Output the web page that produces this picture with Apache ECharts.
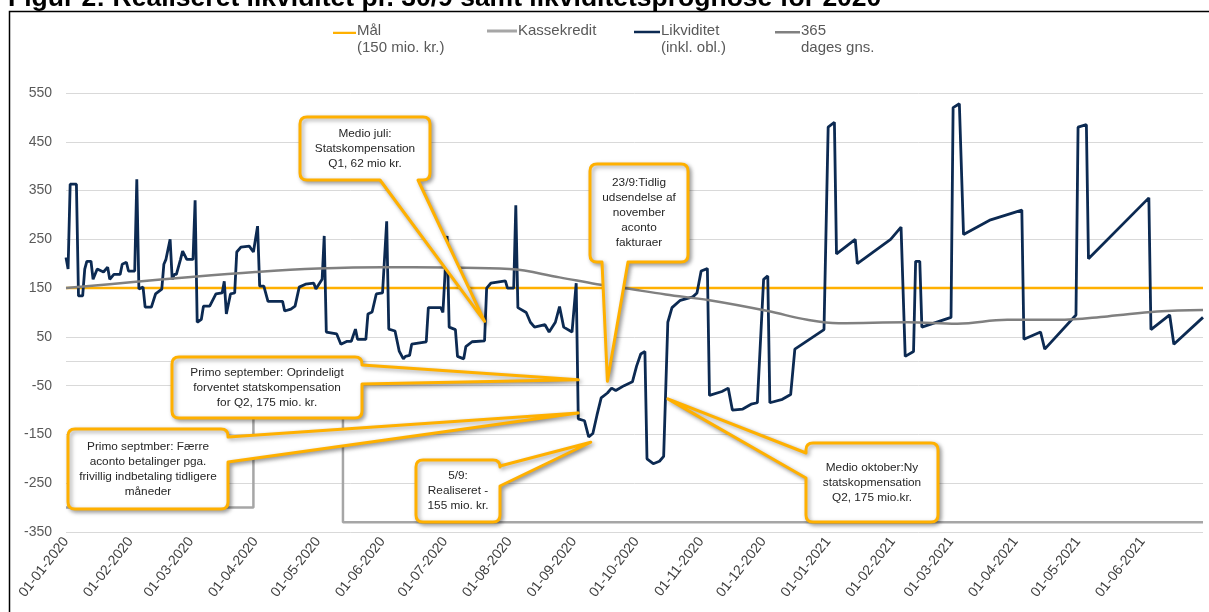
<!DOCTYPE html>
<html><head><meta charset="utf-8">
<script src="https://cdn.jsdelivr.net/npm/echarts@6/dist/echarts.min.js"></script>
<style>html,body{margin:0;padding:0;background:#fff}#c{width:1209px;height:612px}</style>
</head><body><div id="c"></div>
<script>
// ---------- DATA ----------
const titleText = 'Figur 2: Realiseret likviditet pr. 30/9 samt likviditetsprognose for 2020';
const seriesNames = ['Mål', 'Kassekredit', 'Likviditet', '365'];
const legendLabels = ['Mål\n(150 mio. kr.)', 'Kassekredit\n ', 'Likviditet\n(inkl. obl.)', '365\ndages gns.'];
const yTicks = [-350, -250, -150, -50, 50, 150, 250, 350, 450, 550];

const maal = [['2020-01-01', 150], ['2021-06-30', 150]];

const kassekredit = [
  ['2020-01-01', -300], ['2020-03-31', -300], ['2020-03-31', 0],
  ['2020-05-13', 0], ['2020-05-13', -330], ['2021-06-30', -330]
];

const gns365 = [
  ['2020-01-01', 150], ['2020-02-01', 162], ['2020-03-01', 173], ['2020-04-01', 183],
  ['2020-05-01', 190], ['2020-06-01', 193], ['2020-07-01', 192], ['2020-08-01', 189],
  ['2020-08-25', 172], ['2020-09-12', 158], ['2020-09-25', 150], ['2020-10-15', 137],
  ['2020-11-05', 125], ['2020-12-03', 103], ['2020-12-22', 85], ['2021-01-06', 78],
  ['2021-02-08', 80], ['2021-03-04', 77], ['2021-03-28', 85], ['2021-04-21', 85],
  ['2021-05-15', 92], ['2021-06-08', 102], ['2021-06-30', 105]
];

const likviditet = [
  ['2020-01-01', 213], ['2020-01-02', 189], ['2020-01-03', 363], ['2020-01-06', 363],
  ['2020-01-07', 134], ['2020-01-09', 134], ['2020-01-10', 189], ['2020-01-11', 205],
  ['2020-01-13', 205], ['2020-01-14', 168], ['2020-01-16', 189], ['2020-01-19', 183],
  ['2020-01-21', 193], ['2020-01-22', 168], ['2020-01-24', 178], ['2020-01-27', 178],
  ['2020-01-28', 199], ['2020-01-30', 203], ['2020-01-31', 185], ['2020-02-03', 185],
  ['2020-02-04', 373], ['2020-02-05', 148], ['2020-02-07', 152], ['2020-02-08', 111],
  ['2020-02-11', 111], ['2020-02-13', 138], ['2020-02-16', 148], ['2020-02-17', 199],
  ['2020-02-18', 209], ['2020-02-20', 250], ['2020-02-21', 168], ['2020-02-22', 178],
  ['2020-02-23', 178], ['2020-02-25', 209], ['2020-02-26', 226], ['2020-02-28', 209],
  ['2020-03-02', 209], ['2020-03-03', 330], ['2020-03-04', 80], ['2020-03-06', 86],
  ['2020-03-07', 113], ['2020-03-10', 113], ['2020-03-13', 138], ['2020-03-16', 140],
  ['2020-03-17', 164], ['2020-03-18', 97], ['2020-03-20', 138], ['2020-03-22', 140],
  ['2020-03-23', 224], ['2020-03-25', 234], ['2020-03-29', 236], ['2020-03-31', 224],
  ['2020-04-02', 277], ['2020-04-03', 154], ['2020-04-05', 154], ['2020-04-07', 123],
  ['2020-04-14', 123], ['2020-04-15', 103], ['2020-04-18', 107], ['2020-04-20', 113],
  ['2020-04-22', 152], ['2020-04-25', 158], ['2020-04-29', 160], ['2020-04-30', 148],
  ['2020-05-03', 168], ['2020-05-04', 257], ['2020-05-05', 60], ['2020-05-10', 56],
  ['2020-05-12', 35], ['2020-05-15', 41], ['2020-05-17', 41], ['2020-05-19', 66],
  ['2020-05-20', 45], ['2020-05-24', 45], ['2020-05-25', 97], ['2020-05-27', 101],
  ['2020-05-29', 138], ['2020-06-01', 140], ['2020-06-03', 287], ['2020-06-04', 66],
  ['2020-06-07', 62], ['2020-06-09', 21], ['2020-06-11', 5], ['2020-06-12', 10],
  ['2020-06-14', 12], ['2020-06-15', 35], ['2020-06-22', 40], ['2020-06-23', 110],
  ['2020-06-29', 110], ['2020-06-30', 100], ['2020-07-02', 257], ['2020-07-03', 70],
  ['2020-07-06', 65], ['2020-07-07', 10], ['2020-07-10', 5], ['2020-07-11', 30],
  ['2020-07-14', 40], ['2020-07-20', 42], ['2020-07-21', 150], ['2020-07-23', 160],
  ['2020-07-30', 165], ['2020-07-31', 150], ['2020-08-03', 150], ['2020-08-04', 320],
  ['2020-08-05', 110], ['2020-08-09', 100], ['2020-08-11', 80], ['2020-08-13', 70],
  ['2020-08-18', 75], ['2020-08-20', 60], ['2020-08-23', 80], ['2020-08-25', 112],
  ['2020-08-27', 70], ['2020-08-31', 60], ['2020-09-02', 160], ['2020-09-03', -118],
  ['2020-09-06', -122], ['2020-09-08', -155], ['2020-09-10', -148], ['2020-09-12', -110],
  ['2020-09-14', -75], ['2020-09-17', -65], ['2020-09-19', -55], ['2020-09-21', -60],
  ['2020-09-25', -50], ['2020-09-29', -42], ['2020-10-01', -10], ['2020-10-03', 15],
  ['2020-10-05', 20], ['2020-10-06', -200], ['2020-10-09', -210], ['2020-10-12', -205],
  ['2020-10-14', -195], ['2020-10-16', 80], ['2020-10-18', 110], ['2020-10-22', 125],
  ['2020-10-28', 132], ['2020-10-30', 140], ['2020-11-01', 185], ['2020-11-04', 190],
  ['2020-11-05', -70], ['2020-11-11', -62], ['2020-11-14', -55], ['2020-11-16', -100],
  ['2020-11-21', -98], ['2020-11-25', -88], ['2020-11-28', -85], ['2020-12-01', 168],
  ['2020-12-03', 175], ['2020-12-04', -85], ['2020-12-10', -78], ['2020-12-14', -68],
  ['2020-12-16', 25], ['2020-12-23', 45], ['2020-12-30', 65], ['2021-01-01', 480],
  ['2021-01-04', 490], ['2021-01-05', 220], ['2021-01-14', 250], ['2021-01-15', 200],
  ['2021-01-31', 250], ['2021-02-05', 275], ['2021-02-07', 10], ['2021-02-11', 20],
  ['2021-02-12', 205], ['2021-02-14', 205], ['2021-02-15', 70], ['2021-03-01', 90],
  ['2021-03-02', 520], ['2021-03-05', 528],
  ['2021-03-07', 260], ['2021-03-20', 290], ['2021-04-04', 310], ['2021-04-05', 45],
  ['2021-04-13', 60], ['2021-04-15', 25], ['2021-04-30', 95], ['2021-05-01', 480],
  ['2021-05-05', 485], ['2021-05-06', 210], ['2021-06-04', 335], ['2021-06-05', 65],
  ['2021-06-14', 95], ['2021-06-16', 35], ['2021-06-30', 90]
];

// Annotation callouts: text, box (px), wedge side & base (px), tip (data coords)
const callouts = [
  { text: 'Medio juli:\nStatskompensation\nQ1, 62 mio kr.', box: [300, 117, 130, 63], side: 'bottom', base: [380, 418], tip: ['2020-07-20', 82] },
  { text: '23/9:Tidlig\nudsendelse af\nnovember\naconto\nfakturaer', box: [590, 164, 98, 98], side: 'bottom', base: [602, 628], tip: ['2020-09-17', -41] },
  { text: 'Primo september: Oprindeligt\nforventet statskompensation\nfor Q2, 175 mio. kr.', box: [172, 357, 190, 61], side: 'right', base: [365, 384], tip: ['2020-09-03', -38] },
  { text: 'Primo septmber: Færre\naconto betalinger pga.\nfrivillig indbetaling tidligere\nmåneder', box: [68, 429, 160, 80], side: 'right', base: [437, 462], tip: ['2020-09-03', -106] },
  { text: '5/9:\nRealiseret -\n155 mio. kr.', box: [416, 460, 84, 62], side: 'right', base: [466, 486], tip: ['2020-09-09', -166] },
  { text: 'Medio oktober:Ny\nstatskopmensation\nQ2, 175 mio.kr.', box: [806, 443, 132, 79], side: 'left', base: [453, 478], tip: ['2020-10-16', -77] }
];

// ---------- STYLE ----------
const FONT = "'Liberation Sans', Arial, sans-serif";
const colors = ['#FFB000', '#A6A6A6', '#0C2A52', '#808080'];
const DAY = 24 * 3600 * 1000;
const legendLeft = [333, 487, 634, 775];
const legendIconW = [23, 30, 26, 25];
const legendIcon = 'path://M0,0L0.01,0L0.01,0.01Z M0,5.5L30,5.5L30,8.5L0,8.5Z M0,29.99L0.01,29.99L0.01,30Z';

// speech-bubble shape for the annotations
const Bubble = echarts.graphic.extendShape({
  type: 'bubble',
  shape: { x: 0, y: 0, w: 10, h: 10, r: 7, side: 'bottom', a: 0, c: 0, tx: 0, ty: 0 },
  buildPath(ctx, s) {
    const { x, y, w, h, r, side, a, c, tx, ty } = s;
    ctx.moveTo(x + r, y);
    if (side === 'top') { ctx.lineTo(a, y); ctx.lineTo(tx, ty); ctx.lineTo(c, y); }
    ctx.lineTo(x + w - r, y); ctx.quadraticCurveTo(x + w, y, x + w, y + r);
    if (side === 'right') { ctx.lineTo(x + w, a); ctx.lineTo(tx, ty); ctx.lineTo(x + w, c); }
    ctx.lineTo(x + w, y + h - r); ctx.quadraticCurveTo(x + w, y + h, x + w - r, y + h);
    if (side === 'bottom') { ctx.lineTo(c, y + h); ctx.lineTo(tx, ty); ctx.lineTo(a, y + h); }
    ctx.lineTo(x + r, y + h); ctx.quadraticCurveTo(x, y + h, x, y + h - r);
    if (side === 'left') { ctx.lineTo(x, c); ctx.lineTo(tx, ty); ctx.lineTo(x, a); }
    ctx.lineTo(x, y + r); ctx.quadraticCurveTo(x, y, x + r, y);
    ctx.closePath();
  }
});
echarts.graphic.registerShape('bubble', Bubble);

const chart = echarts.init(document.getElementById('c'), null, { renderer: 'canvas' });

const seriesData = [maal, kassekredit, likviditet, gns365];
const option = {
  animation: false,
  backgroundColor: '#ffffff',
  grid: { left: 66, right: 6, top: 93, bottom: 80 },
  legend: seriesNames.map((n, i) => ({
    data: [n], left: legendLeft[i], top: 22, padding: 0,
    itemWidth: legendIconW[i], itemHeight: 30, icon: legendIcon, itemGap: 0,
    itemStyle: { borderWidth: 0 },
    formatter: () => legendLabels[i],
    textStyle: { fontFamily: FONT, fontSize: 15, color: '#595959', lineHeight: 17, padding: [0, 0, 0, -4] },
    selectedMode: false
  })),
  xAxis: {
    type: 'time', min: '2020-01-01', max: '2021-06-30',
    splitNumber: 18, minInterval: 28 * DAY, maxInterval: 31 * DAY,
    axisLine: { show: false }, axisTick: { show: false }, splitLine: { show: false },
    axisLabel: {
      rotate: 52, fontFamily: FONT, fontSize: 14, color: '#404040', margin: 7,
      hideOverlap: false, showMaxLabel: false,
      formatter: v => echarts.time.format(v, '{dd}-{MM}-{yyyy}', false)
    }
  },
  yAxis: {
    type: 'value', min: yTicks[0], max: yTicks[yTicks.length - 1], interval: 100,
    axisLine: { show: false }, axisTick: { show: false },
    axisLabel: { fontFamily: FONT, fontSize: 14, color: '#595959', margin: 14 },
    splitLine: { lineStyle: { color: '#D9D9D9', width: 1 } }
  },
  series: seriesNames.map((n, i) => ({
    name: n, type: 'line', data: seriesData[i], showSymbol: false, symbol: 'none',
    smooth: i === 3 ? 0.4 : false,
    lineStyle: { color: colors[i], width: i === 2 ? 2.8 : 2.5 },
    itemStyle: { color: colors[i] },
    z: [3, 2, 4, 5][i],
    silent: true,
    markLine: i === 0 ? {
      silent: true, symbol: 'none', label: { show: false },
      lineStyle: { color: '#D9D9D9', width: 1, type: 'solid' },
      data: [{ yAxis: 0 }], z: 1
    } : undefined
  }))
};
chart.setOption(option);

const elements = [
  { type: 'rect', shape: { x: 9.5, y: 11.5, width: 1205, height: 620 }, style: { fill: 'none', stroke: '#000', lineWidth: 1.5 }, z: 50, silent: true },
  { type: 'text', x: 8, y: -1, style: { text: titleText, font: "bold 26.5px 'Liberation Sans', Arial, sans-serif", fill: '#000', verticalAlign: 'middle' }, z: 50, silent: true }
];
callouts.forEach((c, i) => {
  const tip = chart.convertToPixel({ gridIndex: 0 }, [echarts.time.parse(c.tip[0]).getTime(), c.tip[1]]);
  const [x, y, w, h] = c.box;
  elements.push({
    type: 'bubble',
    shape: { x, y, w, h, r: 7, side: c.side, a: c.base[0], c: c.base[1], tx: tip[0], ty: tip[1] },
    style: { fill: '#fff', stroke: '#FFB000', lineWidth: 3, lineJoin: 'round', shadowBlur: 4, shadowOffsetX: 2, shadowOffsetY: 2, shadowColor: 'rgba(0,0,0,0.35)' },
    z: 100 + i * 2, silent: true
  });
  elements.push({
    type: 'text', x: x + w / 2, y: y + h / 2,
    style: { text: c.text, align: 'center', verticalAlign: 'middle', font: "11.8px 'Liberation Sans', Arial, sans-serif", fill: '#262626', lineHeight: 15 },
    z: 101 + i * 2, silent: true
  });
});
chart.setOption({ graphic: { elements } });
</script>
</body></html>
